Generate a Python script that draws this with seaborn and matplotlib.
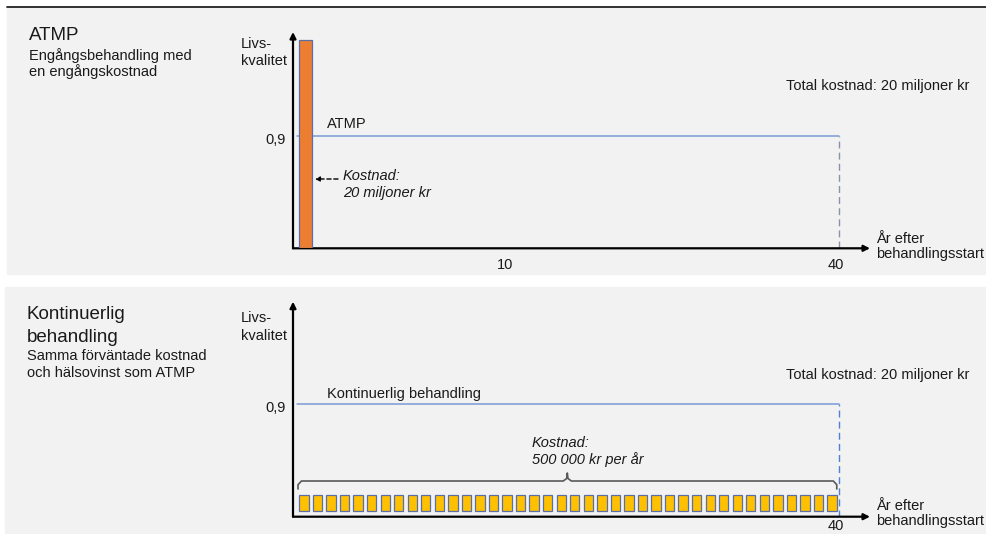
import matplotlib
matplotlib.use("Agg")
import matplotlib.pyplot as plt
from matplotlib.patches import Rectangle, FancyArrowPatch
import numpy as np
import pandas as pd
import seaborn as sns

# ---------------- data ----------------
# ATMP: one-time treatment, one-time cost (schematic bar height)
atmp_bar_year = [0.61]
atmp_bar_height = [1.67]
# continuous treatment: 40 equal yearly payments (schematic bar height)
cont_years = [y + 0.5 for y in range(40)]
cont_bar_height = [0.128] * 40
# quality of life line
quality_years = [0, 40]
quality_values = [0.9, 0.9]
# tick labels
top_tick_labels = ["10", "40"]
bot_tick_labels = ["40"]
ytick_label = "0,9"

panel_titles = ["ATMP", "Kontinuerlig\nbehandling"]

# ---------------- style ----------------
sns.set_style("white")
plt.rcParams["font.family"] = ["Liberation Sans", "DejaVu Sans"]
TXT = "#1a1a1a"
FS = 10.5

W, H = 987, 534
fig = plt.figure(figsize=(W / 100, H / 100), dpi=100, facecolor="white")


def fxy(x, y):
    return x / W, 1 - y / H


def ftext(x, y, s, **kw):
    kw.setdefault("fontsize", FS)
    kw.setdefault("color", TXT)
    kw.setdefault("va", "baseline")
    fig.text(*fxy(x, y), s, **kw)


# panels (drawn beneath the axes)
fig.add_artist(Rectangle(fxy(7, 274), (987 - 7) / W, (274 - 7) / H,
                         transform=fig.transFigure, color="#f2f2f2", zorder=-5))
fig.add_artist(Rectangle(fxy(5, 534), (987 - 5) / W, (534 - 287) / H,
                         transform=fig.transFigure, color="#f2f2f2", zorder=-5))
fig.add_artist(plt.Line2D([7 / W, 1], [1 - 6.5 / H] * 2, color="#222222", lw=1.3,
                          transform=fig.transFigure, zorder=-4))

X0 = (293 - 297.2) / 13.54
X1 = (870 - 297.2) / 13.54
PXY = 124.8  # pixels per unit of y


def make_axes(ybase, ytop):
    ax = fig.add_axes([293 / W, 1 - ybase / H, (870 - 293) / W, (ybase - ytop) / H])
    ax.set_facecolor("none")
    for s in ax.spines.values():
        s.set_visible(False)
    ax.set_xlim(X0, X1)
    ax.set_ylim(0, (ybase - ytop) / PXY)
    ax.set_yticks([])
    arrow = dict(arrowstyle="-|>", lw=1.6, color="black", mutation_scale=9,
                 shrinkA=0, shrinkB=0)
    ax.annotate("", xy=(0, 1), xytext=(0, 0), xycoords="axes fraction",
                arrowprops=arrow, annotation_clip=False)
    ax.annotate("", xy=(1, 0), xytext=(0, 0), xycoords="axes fraction",
                arrowprops=arrow, annotation_clip=False)
    return ax


# ---------------- top panel ----------------
ax = make_axes(248.3, 32)
sns.lineplot(x=quality_years, y=quality_values, color="#7b9ad6", lw=1.1, ax=ax,
             estimator=None, sort=False)
sns.lineplot(x=[quality_years[-1]] * 2, y=[0, quality_values[-1]], color="#8a93a6",
             lw=1.0, linestyle=(0, (5, 3)), ax=ax, estimator=None, sort=False)
sns.barplot(x=atmp_bar_year, y=atmp_bar_height, native_scale=True, width=0.915,
            color="#ed7d31", edgecolor="#5a6fa8", linewidth=0.9, saturation=1,
            errorbar=None, ax=ax, zorder=3)
ax.set_xlim(X0, X1)
ax.set_ylim(0, (248.3 - 32) / PXY)
ax.set_yticks([])
ax.set_xticks([15.35, 39.75], top_tick_labels, fontsize=FS, color=TXT)
ax.tick_params(axis="x", length=0, pad=7)
ax.set_xlabel("")
ax.set_ylabel("")

# ---------------- bottom panel ----------------
ax2 = make_axes(516.7, 301.7)
sns.lineplot(x=quality_years, y=quality_values, color="#7b9ad6", lw=1.1, ax=ax2,
             estimator=None, sort=False)
sns.lineplot(x=[quality_years[-1]] * 2, y=[0, quality_values[-1]], color="#4f7fd6",
             lw=1.0, linestyle=(0, (5, 3)), ax=ax2, estimator=None, sort=False)
sns.barplot(x=cont_years, y=cont_bar_height, native_scale=True, width=0.687,
            color="#ffc000", edgecolor="#5a6fa8", linewidth=0.9, saturation=1,
            errorbar=None, ax=ax2, zorder=3, bottom=0.046)
ax2.set_xlim(X0, X1)
ax2.set_ylim(0, (516.7 - 301.7) / PXY)
ax2.set_yticks([])
ax2.set_xticks([39.75], bot_tick_labels, fontsize=FS, color=TXT)
ax2.tick_params(axis="x", length=0, pad=1.5)
ax2.set_xlabel("")
ax2.set_ylabel("")

# brace over the yearly bars
bl, br, bm = 0.06, 39.85, 19.95
yh, ye, yn = 0.286, 0.222, 0.35
bx = [bl, bl, bl + 0.25, bm - 0.3, bm - 0.05, bm, bm + 0.05, bm + 0.3, br - 0.25, br, br]
by = [ye, yh - 0.03, yh, yh, yh + 0.02, yn, yh + 0.02, yh, yh, yh - 0.03, ye]
ax2.plot(bx, by, color="#595959", lw=1.2, zorder=2)

# ---------------- texts ----------------
ftext(29, 40, panel_titles[0], fontsize=13.5)
ftext(29, 60, "Engångsbehandling med")
ftext(29, 76, "en engångskostnad")
ftext(27, 319, "Kontinuerlig", fontsize=13.5)
ftext(27, 341.5, "behandling", fontsize=13.5)
ftext(27, 360, "Samma förväntade kostnad")
ftext(27, 377, "och hälsovinst som ATMP")

for yb in (48, 322.5):
    ftext(241, yb, "Livs-")
    ftext(241, yb + 17, "kvalitet")
for yb in (144.3, 411.7):
    ftext(285.5, yb, ytick_label, ha="right")

ftext(327, 128, "ATMP")
ftext(327, 398, "Kontinuerlig behandling")
ftext(786, 90, "Total kostnad: 20 miljoner kr")
ftext(786, 379, "Total kostnad: 20 miljoner kr")

for yb in (243, 510):
    ftext(876, yb, "År efter")
    ftext(876, yb + 15, "behandlingsstart")

ftext(343, 180, "Kostnad:", style="italic")
ftext(343, 197, "20 miljoner kr", style="italic")
fig.add_artist(FancyArrowPatch(
    (338, H - 179), (315, H - 179), transform=None,
    arrowstyle="-|>", mutation_scale=7, lw=1.0, color="black",
    linestyle=(0, (3, 2)), shrinkA=0, shrinkB=0))

ftext(532, 447, "Kostnad:", style="italic")
ftext(532, 464, "500 000 kr per år", style="italic")

fig.savefig("out.png", dpi=100, facecolor="white")
